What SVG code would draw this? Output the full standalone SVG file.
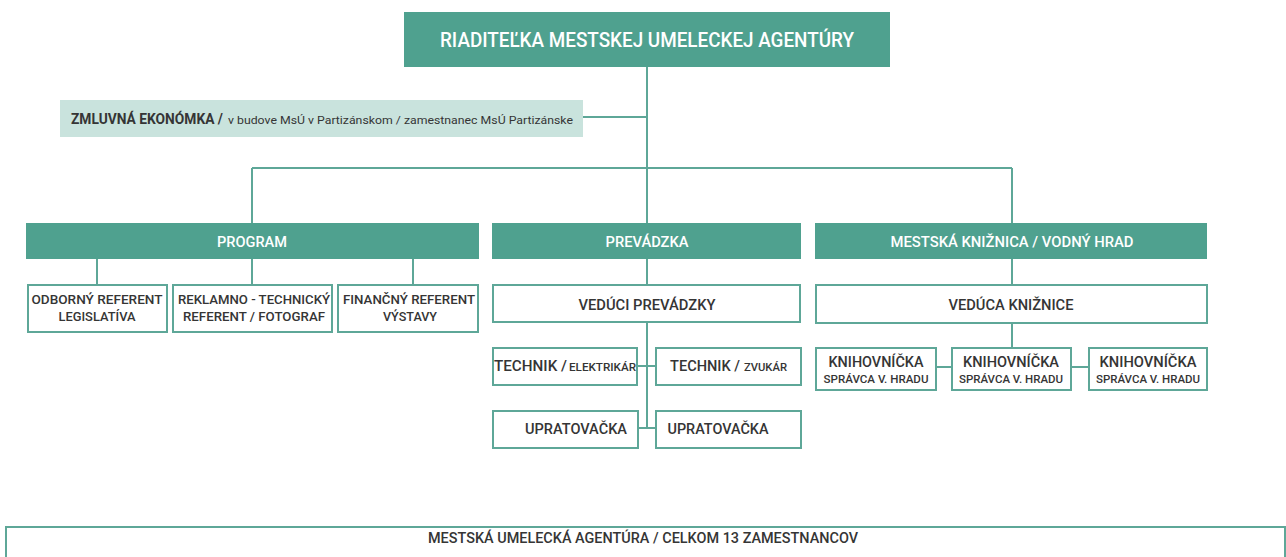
<svg xmlns="http://www.w3.org/2000/svg" width="1286" height="557" viewBox="0 0 1286 557">
<style>
.hd{fill:#4fa18f}
.bx{fill:#ffffff;stroke:#5ea798;stroke-width:2}
.lt{fill:#c9e3dd}
.ln{stroke:#5ea798;stroke-width:2;fill:none}
text{font-family:Roboto,"Liberation Sans","DejaVu Sans",sans-serif}
.wt{fill:#ffffff;font-weight:500;text-anchor:middle}
.dk{fill:#353535;font-weight:500;text-anchor:middle}
</style>
<rect width="1286" height="557" fill="#ffffff"/>
<g id="connectors">
<path class="ln" d="M647 67V223M583 117H647M252 168H1012M252 168V223M1012 168V223"/>
<path class="ln" d="M97 259V284M252 259V284M413 259V284"/>
<path class="ln" d="M647 259V285M647 322V428M637 366H656M638 428H656"/>
<path class="ln" d="M1012 259V285M1012 323V348M936 367H952M1071 367H1089"/>
</g>
<g id="riaditelka">
<rect class="hd" x="404" y="12" width="486" height="55"/>
<text class="wt" x="647" y="47" font-size="20" font-weight="400" textLength="414" lengthAdjust="spacingAndGlyphs">RIADITEĽKA MESTSKEJ UMELECKEJ AGENTÚRY</text>
</g>
<g id="ekonomka">
<rect class="lt" x="60" y="100" width="523" height="37"/>
<text x="71" y="124" fill="#353535"><tspan font-size="14" font-weight="700" textLength="152" lengthAdjust="spacingAndGlyphs">ZMLUVNÁ EKONÓMKA /</tspan> <tspan x="228" font-size="11" textLength="345" lengthAdjust="spacingAndGlyphs">v budove MsÚ v Partizánskom / zamestnanec MsÚ Partizánske</tspan></text>
</g>
<g id="program">
<rect class="hd" x="26" y="223" width="453" height="36"/>
<text class="wt" x="252" y="247" font-size="14" textLength="70" lengthAdjust="spacingAndGlyphs">PROGRAM</text>
</g>
<g id="prevadzka">
<rect class="hd" x="492" y="223" width="309" height="36"/>
<text class="wt" x="647" y="247" font-size="14" textLength="83" lengthAdjust="spacingAndGlyphs">PREVÁDZKA</text>
</g>
<g id="kniznica">
<rect class="hd" x="815" y="223" width="392" height="36"/>
<text class="wt" x="1012" y="247" font-size="14" font-weight="400" textLength="243" lengthAdjust="spacingAndGlyphs">MESTSKÁ KNIŽNICA / VODNÝ HRAD</text>
</g>
<g id="odborny">
<rect class="bx" x="28" y="285" width="139" height="47"/>
<text class="dk" x="97" y="304" font-size="13" textLength="131" lengthAdjust="spacingAndGlyphs">ODBORNÝ REFERENT</text>
<text class="dk" x="97" y="321" font-size="13" textLength="77" lengthAdjust="spacingAndGlyphs">LEGISLATÍVA</text>
</g>
<g id="reklamno">
<rect class="bx" x="173" y="285" width="159" height="47"/>
<text class="dk" x="254" y="304" font-size="13" textLength="152" lengthAdjust="spacingAndGlyphs">REKLAMNO - TECHNICKÝ</text>
<text class="dk" x="254" y="321" font-size="13" textLength="142" lengthAdjust="spacingAndGlyphs">REFERENT / FOTOGRAF</text>
</g>
<g id="financny">
<rect class="bx" x="338" y="285" width="140" height="47"/>
<text class="dk" x="409" y="304" font-size="13" textLength="132" lengthAdjust="spacingAndGlyphs">FINANČNÝ REFERENT</text>
<text class="dk" x="410" y="321" font-size="13" textLength="54" lengthAdjust="spacingAndGlyphs">VÝSTAVY</text>
</g>
<g id="veduci">
<rect class="bx" x="493" y="285" width="307" height="37"/>
<text class="dk" x="647" y="310" font-size="15" textLength="137" lengthAdjust="spacingAndGlyphs">VEDÚCI PREVÁDZKY</text>
</g>
<g id="technik1">
<rect class="bx" x="493" y="348" width="144" height="37"/>
<text x="494" y="371" fill="#353535" font-weight="500"><tspan font-size="15" textLength="73" lengthAdjust="spacingAndGlyphs">TECHNIK /</tspan> <tspan x="569" font-size="10" textLength="67" lengthAdjust="spacingAndGlyphs">ELEKTRIKÁR</tspan></text>
</g>
<g id="technik2">
<rect class="bx" x="656" y="348" width="145" height="37"/>
<text x="670" y="371" fill="#353535" font-weight="500"><tspan font-size="15" textLength="70" lengthAdjust="spacingAndGlyphs">TECHNIK /</tspan> <tspan x="744" font-size="10" textLength="43" lengthAdjust="spacingAndGlyphs">ZVUKÁR</tspan></text>
</g>
<g id="upratovacka1">
<rect class="bx" x="493" y="411" width="145" height="37"/>
<text class="dk" x="576" y="434" font-size="15" textLength="102" lengthAdjust="spacingAndGlyphs">UPRATOVAČKA</text>
</g>
<g id="upratovacka2">
<rect class="bx" x="656" y="411" width="145" height="37"/>
<text class="dk" x="718" y="434" font-size="15" textLength="101" lengthAdjust="spacingAndGlyphs">UPRATOVAČKA</text>
</g>
<g id="veduca">
<rect class="bx" x="816" y="285" width="391" height="38"/>
<text class="dk" x="1011" y="310" font-size="15" textLength="125" lengthAdjust="spacingAndGlyphs">VEDÚCA KNIŽNICE</text>
</g>
<g id="knihovnicka1">
<rect class="bx" x="816" y="348" width="120" height="42"/>
<text class="dk" x="876" y="367" font-size="15" textLength="95" lengthAdjust="spacingAndGlyphs">KNIHOVNÍČKA</text>
<text class="dk" x="876" y="383" font-size="11" textLength="105" lengthAdjust="spacingAndGlyphs">SPRÁVCA V. HRADU</text>
</g>
<g id="knihovnicka2">
<rect class="bx" x="952" y="348" width="119" height="42"/>
<text class="dk" x="1011" y="367" font-size="15" textLength="96" lengthAdjust="spacingAndGlyphs">KNIHOVNÍČKA</text>
<text class="dk" x="1011" y="383" font-size="11" textLength="104" lengthAdjust="spacingAndGlyphs">SPRÁVCA V. HRADU</text>
</g>
<g id="knihovnicka3">
<rect class="bx" x="1089" y="348" width="118" height="42"/>
<text class="dk" x="1148" y="367" font-size="15" textLength="97" lengthAdjust="spacingAndGlyphs">KNIHOVNÍČKA</text>
<text class="dk" x="1148" y="383" font-size="11" textLength="104" lengthAdjust="spacingAndGlyphs">SPRÁVCA V. HRADU</text>
</g>
<g id="celkom">
<rect class="bx" x="6" y="527" width="1279" height="50"/>
<text class="dk" x="643" y="543" font-size="15" font-weight="400" textLength="430" lengthAdjust="spacingAndGlyphs">MESTSKÁ UMELECKÁ AGENTÚRA / CELKOM 13 ZAMESTNANCOV</text>
</g>
</svg>
